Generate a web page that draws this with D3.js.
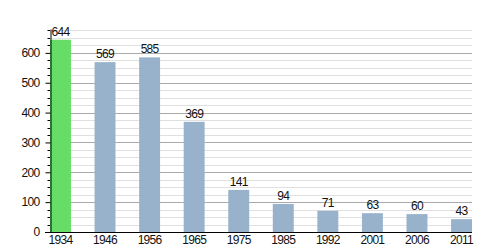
<!DOCTYPE html>
<html><head><meta charset="utf-8">
<script src="https://cdn.jsdelivr.net/npm/d3@7"></script>
<style>body{margin:0;background:#fff}svg{display:block}text{font-family:"Liberation Sans",Arial,sans-serif}</style>
</head><body>
<svg id="c" width="500" height="250"></svg>
<script>
const years = ["1934","1946","1956","1965","1975","1985","1992","2001","2006","2011"];
const population = [644,569,585,369,141,94,71,63,60,43];
const highlight = ["1934"];
const yMajorTicks = [0,100,200,300,400,500,600];

(function () {
const svg = d3.select("#c");
const mLeft = 50, mRight = 472, mTop = 29, mBottom = 232;
const fs = 12, ls = "-0.7px";
const x = d3.scaleBand().domain(years).range([mLeft, mRight]).paddingInner(0.53).paddingOuter(0);
const y = d3.scaleLinear().domain([0, 680]).range([mBottom, mTop]);

const minor = d3.range(0, 676, 25);
svg.append("g").selectAll("line").data(minor).join("line")
  .attr("x1", mLeft).attr("x2", mRight)
  .attr("y1", d => Math.round(y(d)) + 0.5).attr("y2", d => Math.round(y(d)) + 0.5)
  .attr("stroke", d => d % 100 === 0 ? "#aaaaaa" : "#e0e0e0").attr("stroke-width", 1);

svg.append("g").selectAll("rect").data(years).join("rect")
  .attr("x", d => x(d)).attr("width", x.bandwidth())
  .attr("y", (d, i) => y(population[i])).attr("height", (d, i) => mBottom - y(population[i]))
  .attr("fill", d => highlight.includes(d) ? "#66dd66" : "#99b2cc");

svg.append("g").selectAll("text").data(years).join("text")
  .attr("x", d => x(d) + x.bandwidth() / 2).attr("y", (d, i) => y(population[i]) - 4)
  .attr("text-anchor", "middle").attr("font-size", fs).attr("letter-spacing", ls).attr("fill", "#111")
  .text((d, i) => population[i]);

const ya = svg.append("g").attr("transform", `translate(${mLeft + 0.5},0)`)
  .call(d3.axisLeft(y).tickValues(yMajorTicks).tickSize(5).tickPadding(6).tickSizeOuter(0));
ya.select(".domain").attr("stroke", "#000");
ya.selectAll(".tick text").attr("font-size", fs).attr("letter-spacing", ls).attr("fill", "#111").style("font-family", "Liberation Sans, Arial, sans-serif");
ya.selectAll(".tick line").attr("stroke", "#000");
svg.append("g").selectAll("line").data(minor.filter(d => d % 100 !== 0)).join("line")
  .attr("x1", mLeft - 2.5).attr("x2", mLeft)
  .attr("y1", d => Math.round(y(d)) + 0.5).attr("y2", d => Math.round(y(d)) + 0.5)
  .attr("stroke", "#000");

const xa = svg.append("g").attr("transform", `translate(0,${mBottom + 0.5})`)
  .call(d3.axisBottom(x).tickSize(0).tickPadding(3));
xa.select(".domain").attr("d", `M${mLeft - 5},0H${mRight}`).attr("stroke", "#000");
xa.selectAll(".tick text").attr("font-size", fs).attr("letter-spacing", ls).attr("fill", "#111").style("font-family", "Liberation Sans, Arial, sans-serif");
})();
</script>
</body></html>
